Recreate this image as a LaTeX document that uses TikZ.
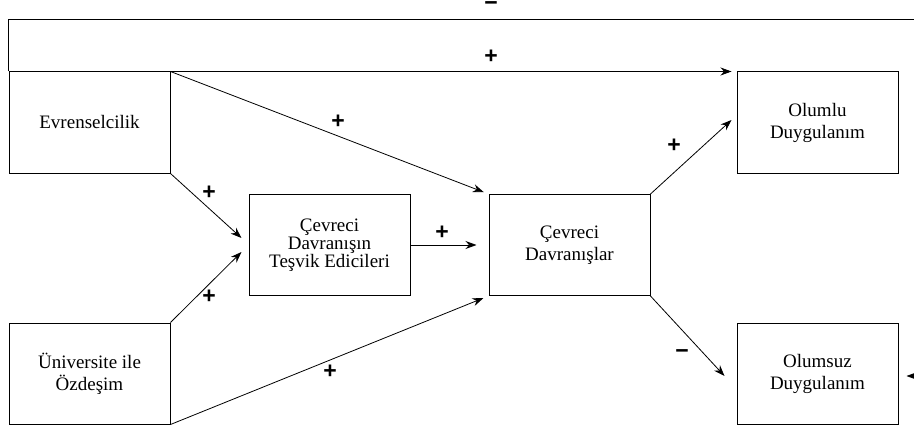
\documentclass[tikz,border=0pt]{standalone}
\usepackage{fontspec}
\setmainfont{Liberation Serif}
\setsansfont{Liberation Sans}
\usetikzlibrary{arrows.meta,calc}
\begin{document}
\begin{tikzpicture}[x=1pt,y=-1pt,
  box/.style={draw,line width=1pt,minimum width=161pt,minimum height=101pt,inner sep=0pt,
    align=center,font=\fontsize{19}{22}\selectfont},
  conn/.style={line width=0.8pt,-{Stealth[length=11pt,width=8pt]}},
  sign/.style={font=\sffamily\bfseries\fontsize{23}{23}\selectfont,inner sep=0pt}]
\useasboundingbox (0,0) rectangle (914,428);
\clip (0,0) rectangle (914,428);
\node[box] (evr) at (89.5,122.5) {Evrenselcilik};
\node[box] (uni) at (89.5,373.5) {Üniversite ile\\Özdeşim};
\node[box,font=\fontsize{19}{18}\selectfont] (tes) at (329.5,245) {Çevreci\\Davranışın\\Teşvik Edicileri};
\node[box] (cd) at (569.5,245) {Çevreci\\Davranışlar};
\node[box] (olp) at (817.5,122.5) {Olumlu\\Duygulanım};
\node[box] (oln) at (817.5,373.5) {Olumsuz\\Duygulanım};
% feedback path
\coordinate (fbr) at (960,19);
\draw[conn] (evr.north west) |- (fbr) |- ([xshift=8pt,yshift=-2.5pt]oln.east);
\draw[conn,shorten >=5pt] (evr.north east) -- (olp.north west);
\draw[conn,shorten >=5pt] (evr.north east) -- (cd.north west);
\draw[conn] (evr.south east) -- ([xshift=-7pt,yshift=7pt]tes.west);
\draw[conn] (uni.north east) -- ([xshift=-7pt,yshift=-7pt]tes.west);
\draw[conn] (uni.south east) -- ([xshift=-5pt,yshift=-2pt]cd.south west);
\draw[conn,shorten >=12pt] (tes.east) -- (cd.west);
\draw[conn] (cd.north east) -- ([xshift=-5pt,yshift=2.5pt]olp.west);
\draw[conn] (cd.south east) -- ([xshift=-12pt,yshift=-2.5pt]oln.west);
% signs
\node[sign] (s1) at (491,6) {−};
\node[sign] (s2) at (491,57) {+};
\node[sign] (s3) at (338,122) {+};
\node[sign] (s4) at (209,193) {+};
\node[sign] (s5) at (209,297) {+};
\node[sign] (s6) at (330,372) {+};
\node[sign] (s7) at (442,233) {+};
\node[sign] (s8) at (674,146) {+};
\node[sign] (s9) at (682,354) {−};
\end{tikzpicture}
\end{document}
